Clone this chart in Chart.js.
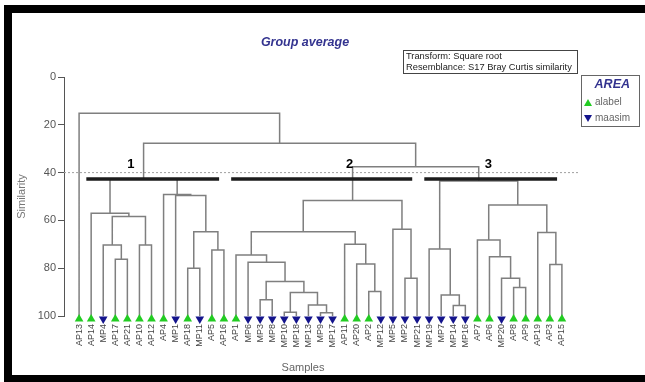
<!DOCTYPE html>
<html>
<head>
<meta charset="utf-8">
<script src="https://cdn.jsdelivr.net/npm/chart.js@4.4.0/dist/chart.umd.min.js"></script>
<style>
  body { margin: 0; background: #fff; font-family: Arial, "Liberation Sans", sans-serif; }
  #wrap { position: relative; width: 645px; height: 382px; overflow: hidden; }
  #frame { position: absolute; left: 4px; top: 5px; width: 650px; height: 377px; box-sizing: border-box;
           border-left: 8px solid #000; border-top: 8px solid #000; border-bottom: 7px solid #000; }
  canvas { position: absolute; left: 0; top: 0; }
  #title { position: absolute; left: 230px; width: 150px; top: 35px; text-align: center;
           font-weight: bold; font-style: italic; font-size: 12.5px; color: #33338f; }
  #info { position: absolute; left: 403px; top: 50px; width: 175px; height: 24px; box-sizing: border-box;
          border: 1px solid #444; font-size: 9.3px; line-height: 11px; color: #222; padding: 0 2px; white-space: nowrap; }
  #legend { position: absolute; left: 581px; top: 75px; width: 59px; height: 52px; box-sizing: border-box;
            border: 1px solid #666; font-size: 10px; color: #666; }
  #legend .hd { text-align: right; padding-right: 9px; font-weight: bold; font-style: italic; font-size: 12.5px;
                color: #33338f; margin-top: 1px; height: 17px; }
  #legend .row { height: 16px; line-height: 16px; white-space: nowrap; padding-left: 2px; }
  .up, .dn { display: inline-block; width: 0; height: 0; border-left: 4px solid transparent;
             border-right: 4px solid transparent; margin-right: 3px; vertical-align: middle; }
  .up { border-bottom: 7px solid #22cc22; }
  .dn { border-top: 7px solid #14148c; }
  #xtitle { position: absolute; left: 263px; width: 80px; top: 361px; text-align: center; font-size: 11px; color: #666; }
</style>
</head>
<body>
<div id="wrap">
  <div id="frame"></div>
  <canvas id="chart" width="645" height="382"></canvas>
  <div id="title">Group average</div>
  <div id="info">Transform: Square root<br>Resemblance: S17 Bray Curtis similarity</div>
  <div id="legend">
    <div class="hd">AREA</div>
    <div class="row"><span class="up"></span>alabel</div>
    <div class="row"><span class="dn"></span>maasim</div>
  </div>
  <div id="xtitle">Samples</div>
</div>
<script>
// leaf order as drawn
const samples = ['AP13','AP14','MP4','AP17','AP21','AP10','AP12','AP4','MP1','AP18','MP11','AP5','AP16',
  'AP1','MP6','MP3','MP8','MP10','MP18','MP13','MP9','MP17','AP11','AP20','AP2','MP12','MP5','MP2','MP21',
  'MP19','MP7','MP14','MP16','AP7','AP6','MP20','AP8','AP9','AP19','AP3','AP15'];
const areas = ['alabel', 'maasim'];
const sampleArea = [0,0,1,0,0,0,0,0,1,0,1,0,0,
  0,1,1,1,1,1,1,1,1,0,0,0,1,1,1,1,
  1,1,1,1,0,0,1,0,0,0,0,0];

// merges: [left, right, similarity]; strings are samples, numbers are earlier merges
const merges = [
  ['AP17','AP21',76.3], ['MP4',0,70.3], ['AP10','AP12',70.3], [1,2,58.4], ['AP14',3,57.0],
  ['AP18','MP11',80.0], ['AP5','AP16',72.4], [5,6,64.7], ['MP1',7,49.6], ['AP4',8,49.2],
  [4,9,42.7],
  ['MP3','MP8',93.2], ['MP10','MP18',98.4], ['MP9','MP17',98.6], ['MP13',13,95.4], [12,14,90.2],
  [11,15,85.6], ['MP6',16,77.5], ['AP1',17,74.5], ['AP2','MP12',89.8], ['AP20',19,78.2],
  ['AP11',20,70.0], [18,21,64.7], ['MP2','MP21',84.2], ['MP5',23,63.7], [22,24,51.7],
  ['MP14','MP16',95.6], ['MP7',26,91.2], ['MP19',27,72.0], ['AP8','AP9',88.1], ['MP20',29,84.2],
  ['AP6',30,75.2], ['AP7',31,68.2], ['AP3','AP15',78.4], ['AP19',33,65.1], [32,34,53.6],
  [28,35,43.5],
  [25,36,37.5], [10,37,27.7], ['AP13',38,15.2]
];

const cutLevel = 40;
const groupNames = ['1', '2', '3'];
const groupNodes = [10, 25, 36];
const groupBarLevel = 42.7;
const yTicks = [0, 20, 40, 60, 80, 100];

// node positions
const nodeX = [], nodeY = [], nodeMin = [], nodeMax = [];
function pos(c) {
  if (typeof c === 'string') { const i = samples.indexOf(c); return [i, 100, i, i]; }
  return [nodeX[c], nodeY[c], nodeMin[c], nodeMax[c]];
}
const treePts = [];
merges.forEach(([a, b, h], k) => {
  const [xa, ya, mina, maxa] = pos(a);
  const [xb, yb, minb, maxb] = pos(b);
  nodeX[k] = (xa + xb) / 2; nodeY[k] = h;
  nodeMin[k] = Math.min(mina, minb); nodeMax[k] = Math.max(maxa, maxb);
  treePts.push({x: xa, y: ya}, {x: xa, y: h}, {x: xb, y: h}, {x: xb, y: yb}, {x: null, y: null});
});

const barPts = [];
groupNodes.forEach(n => {
  barPts.push({x: nodeMin[n] - 0.4, y: groupBarLevel}, {x: nodeMax[n] - 0.4, y: groupBarLevel}, {x: null, y: null});
});

const markerData = areas.map((_, a) =>
  samples.map((s, i) => ({x: i, y: 100, a: sampleArea[i]})).filter(p => p.a === a));

const FONT = 'Arial, "Liberation Sans", sans-serif';
const tagShift = [-1.05, -0.25, 0.8];

const groupTags = {
  id: 'groupTags',
  afterDatasetsDraw(chart) {
    const {ctx, scales: {x, y}} = chart;
    ctx.save();
    ctx.font = 'bold 13px ' + FONT;
    ctx.fillStyle = '#000';
    ctx.textAlign = 'center';
    ctx.textBaseline = 'middle';
    groupNames.forEach((g, i) => {
      ctx.fillText(g, x.getPixelForValue(nodeX[groupNodes[i]] + tagShift[i]), y.getPixelForValue(36.6));
    });
    ctx.restore();
  }
};

// symbols sit a little below the leaf ends
const markerShift = {
  id: 'markerShift',
  beforeDatasetDraw(chart, args) {
    if (args.index >= 3) { chart.ctx.save(); chart.ctx.translate(0, 3); }
  },
  afterDatasetDraw(chart, args) {
    if (args.index >= 3) chart.ctx.restore();
  }
};

new Chart(document.getElementById('chart'), {
  type: 'scatter',
  data: {
    datasets: [
      { label: 'cut', data: [{x: -1.25, y: cutLevel}, {x: 41.5, y: cutLevel}], showLine: true,
        borderColor: '#a0a0a0', borderWidth: 1, borderDash: [2, 2], pointRadius: 0, order: 5 },
      { label: 'tree', data: treePts, showLine: true, spanGaps: false, borderColor: '#7f7f7f',
        borderWidth: 1.5, pointRadius: 0, tension: 0, order: 4 },
      { label: 'groups', data: barPts, showLine: true, spanGaps: false, borderColor: '#1c1c1c',
        borderWidth: 3.5, pointRadius: 0, order: 3 },
      { label: areas[0], data: markerData[0], pointStyle: 'triangle', pointRadius: 5,
        backgroundColor: '#22cc22', borderWidth: 0, order: 1, clip: false },
      { label: areas[1], data: markerData[1], pointStyle: 'triangle', rotation: 180, pointRadius: 5,
        backgroundColor: '#14148c', borderWidth: 0, order: 1, clip: false }
    ]
  },
  options: {
    responsive: false,
    animation: false,
    devicePixelRatio: 1,
    events: [],
    layout: { padding: { top: 77, right: 65, bottom: 0, left: 0 } },
    plugins: { legend: { display: false }, tooltip: { enabled: false } },
    scales: {
      x: {
        type: 'linear', min: -1.25, max: 41.5,
        afterBuildTicks: s => { s.ticks = samples.map((_, i) => ({value: i})); },
        afterFit: s => { s.height = 66; },
        ticks: { autoSkip: false, minRotation: 90, maxRotation: 90, padding: 8, color: '#444',
                 font: { size: 9, family: FONT }, callback: v => samples[v] },
        grid: { display: false, drawTicks: false },
        border: { display: false }
      },
      y: {
        type: 'linear', reverse: true, min: 0, max: 100,
        afterBuildTicks: s => { s.ticks = yTicks.map(v => ({value: v})); },
        afterFit: s => { s.width = 64; },
        ticks: { color: '#555', padding: 2, font: { size: 11, family: FONT } },
        grid: { drawOnChartArea: false, drawTicks: true, tickLength: 6, color: '#555' },
        border: { color: '#555', width: 1 },
        title: { display: true, text: 'Similarity', color: '#777', padding: { top: 15 },
                 font: { size: 11, family: FONT } }
      }
    }
  },
  plugins: [groupTags, markerShift]
});
</script>
</body>
</html>
